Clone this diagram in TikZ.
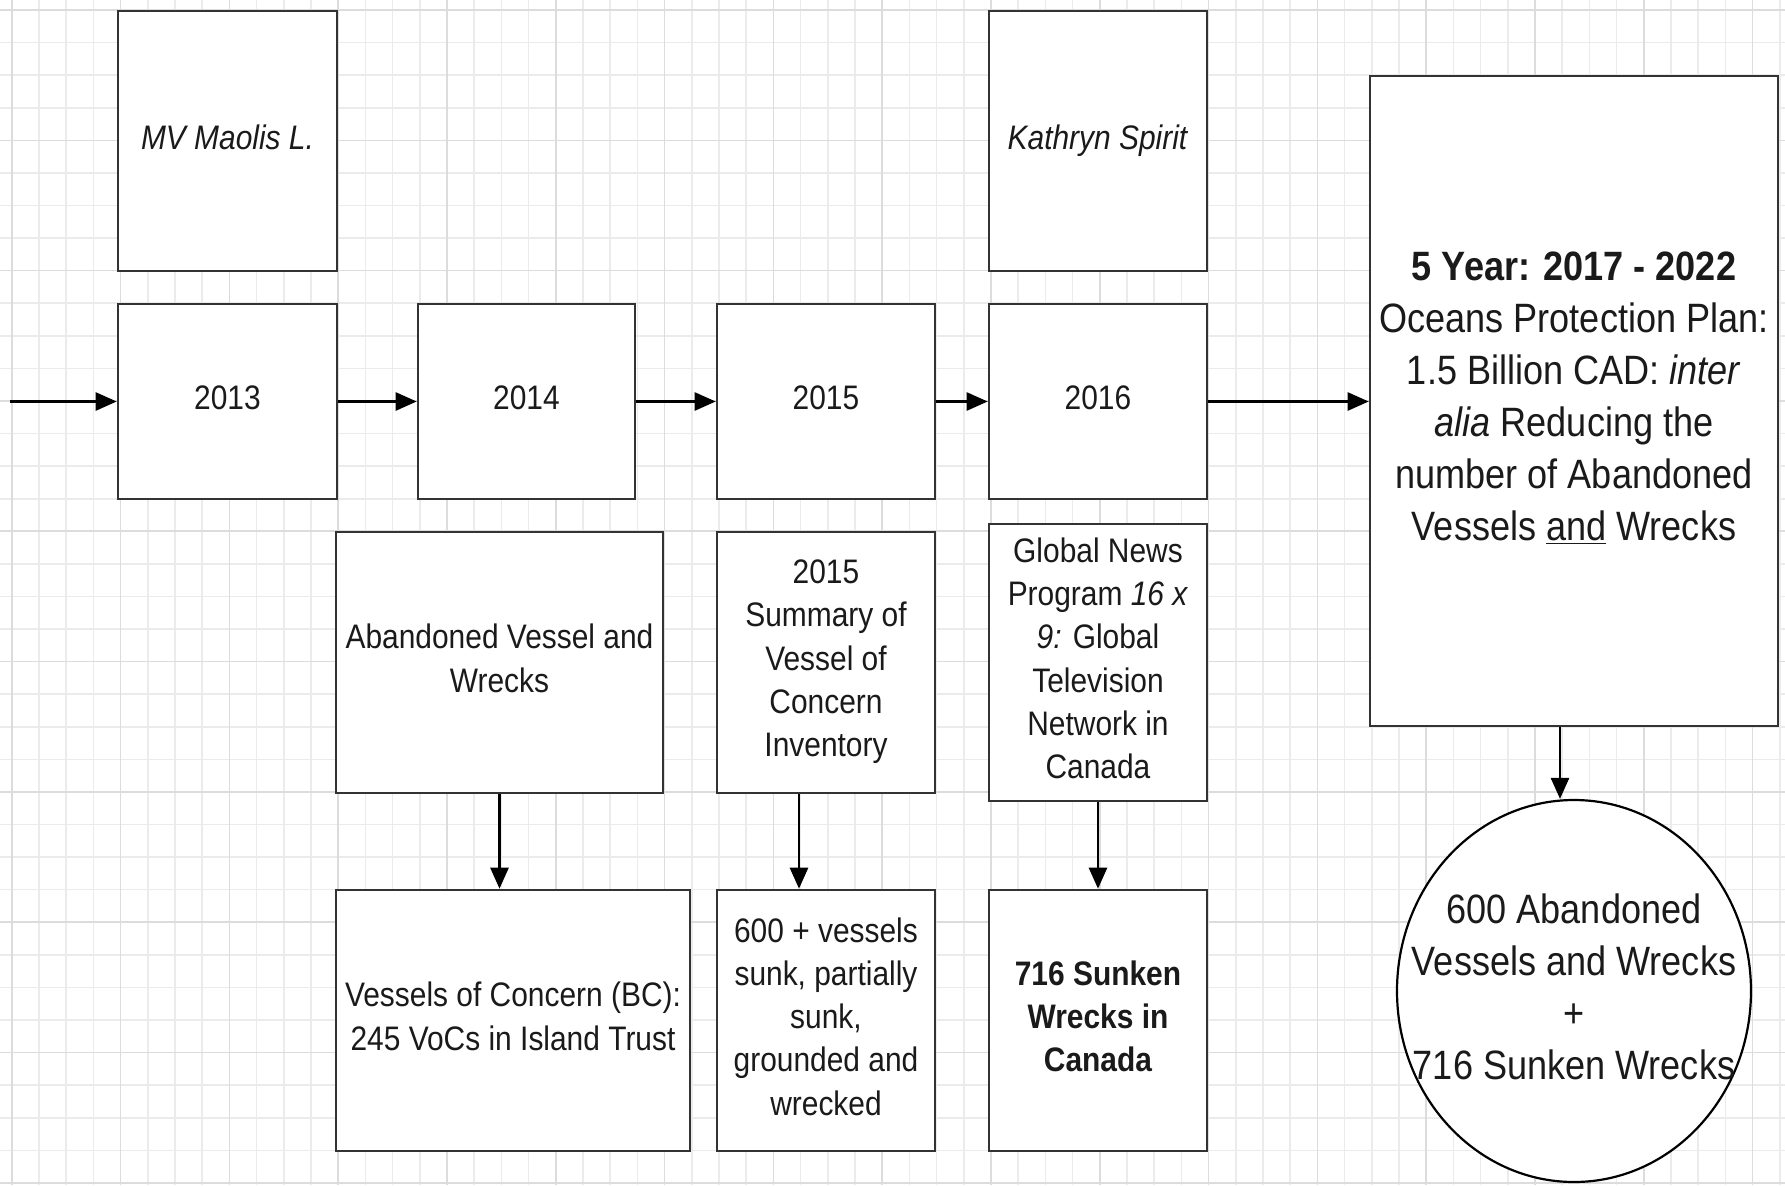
\documentclass[tikz,border=0pt]{standalone}
\usepackage{fontspec}
\setmainfont{Liberation Sans}[FakeStretch=0.88]
\usetikzlibrary{arrows.meta,shapes.geometric}
\definecolor{gridmin}{HTML}{EBEBEB}
\definecolor{gridmaj}{HTML}{DCDCDC}
\definecolor{boxc}{HTML}{333333}
\definecolor{txt}{HTML}{1A1A1A}
\newcommand\fsmall{\fontsize{17pt}{21.65pt}\selectfont}
\newcommand\flarge{\fontsize{20.5pt}{26pt}\selectfont}
\newcommand\sstrut{\rule[-4.2pt]{0pt}{16.6pt}}
\newcommand\lstrut{\rule[-5.1pt]{0pt}{20.1pt}}
\begin{document}
\begin{tikzpicture}[x=0.5pt,y=-0.5pt,
  box/.style={draw=boxc,line width=1.3pt,fill=white,rectangle,inner sep=0pt,align=center,text=txt,font=\fsmall,
    execute at begin node=\sstrut,execute at end node=\sstrut},
  bigbox/.style={draw=boxc,line width=1.3pt,fill=white,rectangle,inner sep=0pt,align=center,text=txt,font=\flarge,
    execute at begin node=\lstrut,execute at end node=\lstrut},
  arr/.style={-{Triangle[length=10.5pt,width=9pt]},line width=1.3pt,black},
  gridline/.style={line width=0.8pt}]
\fill[white] (0,0) rectangle (1785,1185);
\useasboundingbox (0,0) rectangle (1785,1185);
% grid
\foreach \k in {0,...,65} \draw[gridmin,gridline] ({11.7+27.2*\k},0) -- ({11.7+27.2*\k},1185);
\foreach \k in {0,...,36} \draw[gridmin,gridline] (0,{10+32.58*\k}) -- (1785,{10+32.58*\k});
\foreach \k in {0,4,...,64} \draw[gridmaj,gridline] ({11.7+27.2*\k},0) -- ({11.7+27.2*\k},1185);
\foreach \k in {0,4,...,36} \draw[gridmaj,gridline] (0,{10+32.58*\k}) -- (1785,{10+32.58*\k});

% top row
\node[box,minimum width=109.5pt,minimum height=130pt] (mv) at (227.5,141) {\textit{MV Maolis L.}};
\node[box,minimum width=109pt,minimum height=130pt] (kath) at (1098,141) {\textit{Kathryn Spirit}};

% timeline
\node[box,minimum width=109.5pt,minimum height=97.5pt] (y13) at (227.5,401.5) {2013};
\node[box,minimum width=108.5pt,minimum height=97.5pt] (y14) at (526.5,401.5) {2014};
\node[box,minimum width=109pt,minimum height=97.5pt] (y15) at (826,401.5) {2015};
\node[box,minimum width=109pt,minimum height=97.5pt] (y16) at (1098,401.5) {2016};
\node[bigbox,minimum width=204pt,minimum height=325pt] (opp) at (1574,401) {\textbf{5 Year: 2017 - 2022}\\Oceans Protection Plan:\\1.5 Billion CAD: \textit{inter}\\\textit{alia} Reducing the\\number of Abandoned\\Vessels \underline{and} Wrecks};

% middle row
\node[box,minimum width=163.5pt,minimum height=130.5pt] (avw) at (499.5,662.5) {Abandoned Vessel and\\Wrecks};
\node[box,minimum width=109pt,minimum height=130.5pt] (sum) at (826,662.5) {2015\\Summary of\\Vessel of\\Concern\\Inventory};
\node[box,minimum width=109pt,minimum height=138.5pt] (gn) at (1098,662.5) {Global News\\Program \textit{16 x}\\\textit{9:} Global\\Television\\Network in\\Canada};

% bottom row
\node[box,minimum width=177pt,minimum height=130.5pt] (voc) at (513,1020.5) {Vessels of Concern (BC):\\245 VoCs in Island Trust};
\node[box,minimum width=109pt,minimum height=130.5pt] (six) at (826,1020.5) {600 + vessels\\sunk, partially\\sunk,\\grounded and\\wrecked};
\node[box,minimum width=109pt,minimum height=130.5pt,font=\fsmall\bfseries] (sunk) at (1098,1020.5) {716 Sunken\\Wrecks in\\Canada};

% circle
\node[draw=black,line width=1.1pt,fill=white,ellipse,minimum width=177pt,minimum height=191pt,inner sep=0pt] (circ) at (1574,991) {};
\node[align=center,font=\flarge,text=txt,inner sep=0pt] (circtxt) at (1574,986.5) {600 Abandoned\\Vessels and Wrecks\\+\\716 Sunken Wrecks};

% connectors
\coordinate (start) at (10,401.5);
\draw[arr] (start) -- (y13.west);
\draw[arr] (y13.east) -- (y14.west);
\draw[arr] (y14.east) -- (y15.west);
\draw[arr] (y15.east) -- (y16.west);
\draw[arr] (y16.east) -- (y16.east -| opp.west);
\draw[arr] (avw.south) -- (avw.south |- voc.north);
\draw[arr] ([xshift=-13.5pt]sum.south) -- ([xshift=-13.5pt]six.north);
\draw[arr] (gn.south) -- (sunk.north);
\draw[arr] ([xshift=-7pt]opp.south) -- ([xshift=-7pt]circ.north);
\end{tikzpicture}
\end{document}
